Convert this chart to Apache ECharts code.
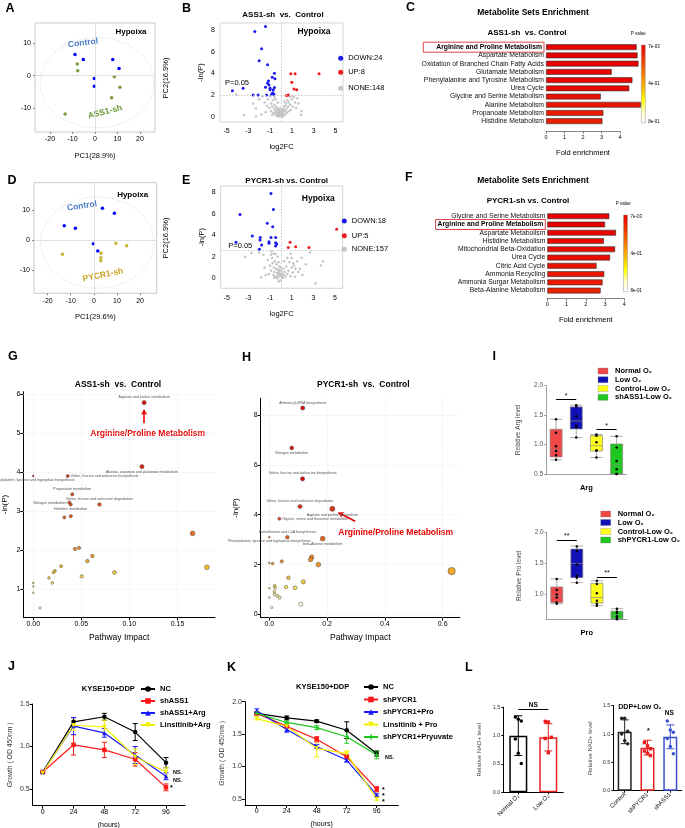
<!DOCTYPE html>
<html>
<head>
<meta charset="utf-8">
<script src="https://cdn.jsdelivr.net/npm/echarts@6.0.0/dist/echarts.min.js"></script>
<style>html,body{margin:0;padding:0;background:#fff;}#chart{width:685px;height:828px;}</style>
</head>
<body>
<div id="chart"></div>
<script>
const FONT = "'Liberation Sans', Arial, Helvetica, sans-serif";

// ---------- A / D : PCA score plots ----------
const pcaA_control = [[-8.9,6.5],[-5.2,5.0],[7.9,5.0],[10.7,2.2],[-0.3,-0.9],[-0.3,-3.3]];
const pcaA_ass1 = [[-7.9,3.6],[-7.7,1.5],[8.6,-0.4],[11.1,-3.6],[7.4,-6.9],[-13.3,-11.9]];
const pcaD_control = [[-12.8,4.7],[-8.0,3.9],[3.7,10.6],[8.9,8.9],[-0.2,-1.3],[1.7,-3.7]];
const pcaD_pycr1 = [[-13.6,-4.8],[3.1,-4.4],[3.0,-5.9],[3.0,-6.9],[9.5,-1.1],[14.2,-1.9]];
const pcaTicksX = [-20,-10,0,10,20];
const pcaTicksY = [-10,0,10];
const pcaEllipseA = [0.9,-2.2,25.3,14.0];
const pcaEllipseD = [1.5,-0.9,24.5,15.2];

// ---------- B / E : volcano plots ----------
const volB_down = [[-1.42,8.33],[-2.4,7.87],[-1.78,6.27],[-2.0,5.15],[-1.23,4.78],[-0.6,4.0],[-0.8,3.64],[-0.55,3.49],[-1.23,3.09],[-1.1,2.93],[-1.42,2.72],[-1.0,2.62],[-1.0,2.47],[-0.7,2.47],[-0.6,2.69],[-1.32,2.0],[-0.86,2.07],[-0.65,2.07],[-2.1,2.0],[-2.55,2.0],[-3.48,2.62],[-4.46,2.38],[-1.15,3.3],[-0.75,2.2]];
const volB_up = [[0.9,3.95],[1.3,3.95],[3.5,3.95],[1.0,3.18],[1.2,2.56],[1.45,2.47],[0.52,1.94],[0.68,2.0]];
const volB_none = [[-4.1,2.05],[-3.4,0.15],[-2.3,0.0],[-2.3,0.75],[-2.55,1.2],[-2.0,1.6],[-1.7,1.85],[-1.5,1.3],[-1.3,1.0],[-1.2,1.6],[-1.1,0.8],[-1.0,1.85],[-0.9,1.2],[-0.9,0.5],[-0.8,0.9],[-0.75,1.5],[-0.7,0.3],[-0.6,0.7],[-0.6,1.1],[-0.55,0.45],[-0.5,0.2],[-0.45,0.9],[-0.4,0.6],[-0.4,0.1],[-0.35,0.35],[-0.3,0.8],[-0.3,0.05],[-0.25,0.5],[-0.2,0.25],[-0.2,0.0],[-0.15,0.6],[-0.1,0.15],[-0.1,0.4],[-0.05,0.05],[0.0,0.3],[0.05,0.1],[0.1,0.5],[0.1,0.2],[0.15,0.0],[0.2,0.7],[0.2,0.35],[0.25,0.1],[0.3,0.9],[0.35,0.5],[0.4,0.2],[0.45,1.2],[0.5,0.7],[0.55,0.35],[0.6,1.5],[0.65,0.9],[0.7,0.5],[0.8,1.85],[0.85,1.1],[0.9,0.6],[1.0,1.6],[1.1,0.9],[1.2,1.8],[1.3,1.3],[1.4,0.8],[1.5,1.7],[1.6,1.2],[1.85,0.15],[1.9,0.5],[-1.4,0.4],[-1.8,0.2],[0.3,1.4],[-0.6,1.8],[1.05,1.9],[-0.3,1.3],[-0.05,0.75],[0.05,0.55],[-0.15,0.3],[-0.25,0.15],[0.12,0.05],[-0.35,0.6],[0.25,0.6],[-0.8,0.15],[0.4,1.0],[-0.5,1.6],[0.7,1.3]];
const volE_down = [[-0.91,7.9],[-0.69,6.42],[-3.77,5.95],[-1.25,5.12],[-0.75,4.8],[-2.63,3.94],[-0.91,3.81],[-0.48,3.81],[-1.92,3.57],[-1.09,3.41],[-1.09,3.26],[-0.48,3.32],[-0.38,3.19],[-1.77,3.1],[-1.98,2.7],[-4.14,3.35],[-0.48,3.0],[-1.9,3.8]];
const volE_up = [[0.85,3.35],[0.69,2.88],[1.37,2.95],[2.6,2.88],[5.15,4.56]];
const volE_none = [[-3.3,2.0],[-2.7,2.35],[-1.6,2.2],[-0.85,2.5],[-0.5,2.3],[1.0,1.9],[1.15,1.4],[1.9,1.9],[1.75,0.9],[2.7,2.4],[3.9,1.6],[3.7,1.2],[3.2,-0.45],[1.3,0.15],[-1.2,1.7],[-1.0,1.2],[-0.9,0.7],[-0.8,1.9],[-0.75,1.4],[-0.7,0.3],[-0.65,1.0],[-0.6,0.6],[-0.55,1.6],[-0.5,0.2],[-0.45,0.9],[-0.4,1.3],[-0.4,0.1],[-0.35,0.5],[-0.3,0.8],[-0.3,2.0],[-0.25,0.3],[-0.2,-0.3],[-0.2,0.6],[-0.15,1.1],[-0.1,0.2],[-0.1,0.45],[-0.05,-0.2],[0.0,0.3],[0.05,0.7],[0.1,0.15],[0.15,0.4],[0.2,0.05],[0.25,0.9],[0.3,0.3],[0.35,0.6],[0.45,0.15],[0.5,1.1],[0.6,0.4],[0.7,0.7],[0.8,1.5],[0.9,0.2],[1.0,1.0],[1.1,0.55],[1.2,1.2],[1.35,0.9],[1.5,1.6],[1.6,0.6],[2.0,0.3],[-1.4,0.3],[-1.5,1.0],[-1.8,0.1],[-2.0,2.4],[-0.65,2.3],[-0.2,1.5],[0.0,1.0],[-0.6,0.05],[-0.3,0.0],[0.05,0.4],[-0.15,0.8],[0.9,2.3],[-0.9,2.2],[-1.1,0.4],[0.6,1.9],[2.3,1.3],[0.3,1.6]];
const volTicksX = [-5,-3,-1,1,3,5];
const volTicksY = [0,2,4,6,8];
const volCutB = 1.95;
const volCutE = 2.64;

// ---------- C / F : metabolite set enrichment ----------
const cNames = ['Arginine and Proline Metabolism','Aspartate Metabolism','Oxidation of Branched Chain Fatty Acids','Glutamate Metabolism','Phenylalanine and Tyrosine Metabolism','Urea Cycle','Glycine and Serine Metabolism','Alanine Metabolism','Propanoate Metabolism','Histidine Metabolism'];
const cFold = [4.9,4.95,5.0,3.55,4.67,4.5,2.96,5.13,3.1,3.05];
const cP = [0.007,0.009,0.01,0.02,0.025,0.03,0.05,0.06,0.08,0.09];
const fNames = ['Glycine and Serine Metabolism','Arginine and Proline Metabolism','Aspartate Metabolism','Histidine Metabolism','Mitochondrial Beta-Oxidation','Urea Cycle','Citric Acid Cycle','Ammonia Recycling','Ammonia Surgar Metabolism','Beta-Alanine Metabolism'];
const fFold = [3.22,3.0,3.57,2.94,3.52,3.26,2.56,2.96,2.87,2.77];
const fP = [0.007,0.01,0.015,0.03,0.035,0.04,0.06,0.07,0.08,0.1];
const pLegendLabels = ['7e-03','4e-01','8e-01'];

// ---------- G / H : pathway impact ----------
const gPts = [[0.1153,5.78],[0.113,4.14],[0.0,3.90],[0.0358,3.90],[0.0406,3.43],[0.0375,3.22],[0.0389,3.17],[0.0688,3.17],[0.0323,2.84],[0.039,2.87],[0.1656,2.43],[0.0434,2.03],[0.0476,2.06],[0.0615,1.85],[0.0563,1.72],[0.1806,1.56],[0.0844,1.43],[0.0289,1.59],[0.0226,1.47],[0.021,1.43],[0.0504,1.33],[0.0163,1.29],[0.0198,1.16],[0.0,1.16],[0.0,1.07],[0.0,0.91],[0.007,0.52]];
const gNames = ['Arginine and proline metabolism','Alanine, aspartate and glutamate metabolism','Phenylalanine, tyrosine and tryptophan biosynthesis','Valine, leucine and isoleucine biosynthesis','Propanoate metabolism','Nitrogen metabolism','Histidine metabolism','Valine, leucine and isoleucine degradation'];
const hPts = [[0.1155,8.28],[0.0775,6.68],[0.115,5.44],[0.106,4.33],[0.218,4.24],[0.0346,3.84],[0.0,3.1],[0.0623,3.1],[0.1846,3.04],[0.043,2.13],[0.0115,2.04],[0.0,2.07],[0.1466,2.3],[0.1427,2.2],[0.1697,2.0],[0.066,1.47],[0.1177,1.31],[0.058,1.1],[0.089,1.07],[0.0185,1.15],[0.0196,1.07],[0.0,1.05],[0.017,0.91],[0.018,0.8],[0.0277,0.75],[0.0355,0.67],[0.0,0.68],[0.1085,0.41],[0.008,0.28],[0.631,1.74]];
const hNames = ['Aminoacyl-tRNA biosynthesis','Nitrogen metabolism','Valine, leucine and isoleucine biosynthesis','Valine, leucine and isoleucine degradation','Arginine and proline metabolism','Glycine, serine and threonine metabolism','Phenylalanine, tyrosine and tryptophan biosynthesis','Pantothenate and CoA biosynthesis','beta-Alanine metabolism'];
const gTicksX = [0,0.05,0.1,0.15];
const gTicksY = [1,2,3,4,5,6];
const hTicksX = [0,0.2,0.4,0.6];
const hTicksY = [0,2,4,6,8];
const gArrow = [[0.1153,5.25],[0.1153,5.6]];
const hArrow = [[0.297,3.74],[0.239,4.08]];

// ---------- I : box plots ----------
const iArgGroups = ['Normal O₂','Low O₂','Control-Low O₂','shASS1-Low O₂'];
const iProGroups = ['Normal O₂','Low O₂','Control-Low O₂','shPYCR1-Low O₂'];
const argBox = [[0.74,0.79,0.91,1.26,1.43],[1.12,1.265,1.40,1.64,1.67],[0.78,0.89,0.98,1.15,1.17],[0.5,0.5,0.65,1.01,1.14]];
const argPts = [[1.43,1.2,0.97,0.89,0.82,0.74],[1.67,1.65,1.48,1.32,1.30,1.12],[1.17,1.15,1.04,0.90,0.90,0.78],[1.14,0.95,0.72,0.58,0.50,0.50]];
const argSig = [[0,1,1.77,'*'],[2,3,1.26,'*']];
const proBox = [[0.85,0.87,0.97,1.12,1.25],[1.19,1.27,1.5,1.73,1.78],[0.82,0.86,0.95,1.18,1.22],[0.6,0.61,0.67,0.73,0.77]];
const proPts = [[1.25,1.07,1.0,0.95,0.87,0.85],[1.77,1.70,1.48,1.30,1.27,1.19],[1.22,1.17,1.02,0.90,0.85,0.82],[0.77,0.72,0.70,0.65,0.62,0.60]];
const proSig = [[0,1,1.88,'**'],[2,3,1.28,'**']];

// ---------- J / K : growth curves ----------
const hours = [0,24,48,72,96];
const jNC = [0.70,1.29,1.35,1.17,0.81],        jNCerr = [0.01,0.05,0.04,0.10,0.06];
const jShASS1 = [0.70,1.02,0.96,0.85,0.52],    jShASS1err = [0.01,0.12,0.09,0.08,0.04];
const jShASS1Arg = [0.70,1.24,1.16,0.90,0.65], jShASS1Argerr = [0.01,0.10,0.05,0.10,0.04];
const jLinsArg = [0.69,1.25,1.23,0.88,0.70],   jLinsArgerr = [0.01,0.06,0.08,0.09,0.05];
const kNC = [1.82,1.75,1.70,1.56,1.20],        kNCerr = [0.02,0.03,0.02,0.13,0.04];
const kShPYCR1 = [1.82,1.62,1.42,1.15,0.65],   kShPYCR1err = [0.02,0.02,0.04,0.03,0.04];
const kShPYCR1Pro = [1.86,1.57,1.31,1.10,0.56],kShPYCR1Proerr = [0.03,0.04,0.03,0.03,0.02];
const kLinsPro = [1.74,1.62,1.28,1.20,0.50],   kLinsProerr = [0.02,0.02,0.13,0.04,0.02];
const kShPYCR1Pyr = [1.82,1.68,1.60,1.46,1.18],kShPYCR1Pyrerr = [0.02,0.02,0.03,0.10,0.06];

// ---------- L : NAD+ bars ----------
const lGroups1 = ['Normal O₂','Low O₂'];
const lMean1 = [1.0,0.97], lErr1 = [0.35,0.24];
const lPts1 = [[1.33,1.29,1.26,0.94,0.69,0.51],[1.25,1.24,0.97,0.95,0.70]];
const lSig1 = [0,1,1.46,'NS'];
const lGroups2 = ['Control','shPYCR1','shASS1'];
const lMean2 = [1.04,0.76,0.95], lErr2 = [0.21,0.13,0.21];
const lPts2 = [[1.28,1.28,1.05,1.00,0.88,0.83],[0.85,0.79,0.74,0.70,0.66,0.62],[1.23,1.07,1.03,0.92,0.78,0.65]];

// ================= build =================
function merge(a,b){
  const o = Object.assign({}, a);
  for (const k in b){
    const bv = b[k], av = a[k];
    if (bv && typeof bv === 'object' && !Array.isArray(bv) && typeof bv !== 'function' && av && typeof av === 'object' && !Array.isArray(av)) o[k] = merge(av,bv);
    else o[k] = bv;
  }
  return o;
}
const baseAxis = {
  splitLine:{show:false},
  axisLine:{show:true, onZero:false, lineStyle:{color:'#000', width:1}},
  axisTick:{show:true, length:3, lineStyle:{color:'#000', width:1}},
  axisLabel:{fontSize:7, color:'#000', fontFamily:FONT, margin:3},
  nameTextStyle:{fontSize:7.5, color:'#000', fontFamily:FONT},
  nameLocation:'middle'
};
function vAxis(gi,min,max,o){ return merge(merge(baseAxis,{gridIndex:gi,type:'value',min:min,max:max}), o||{}); }
function cAxis(gi,data,o){ return merge(merge(baseAxis,{gridIndex:gi,type:'category',data:data}), o||{}); }

const grids = [
  {left:35, top:23, width:120, height:109, show:true, borderColor:'#bbb', borderWidth:0.8},
  {left:220, top:23, width:123, height:99, show:true, borderColor:'#ccc', borderWidth:0.8},
  {left:546, top:43.1, width:74, height:82.2},
  {left:34, top:182.7, width:122.7, height:110.6, show:true, borderColor:'#bbb', borderWidth:0.8},
  {left:220.7, top:186, width:122, height:102.3, show:true, borderColor:'#ccc', borderWidth:0.8},
  {left:547.3, top:212.1, width:77, height:82.6},
  {left:23.3, top:391.7, width:191.7, height:225.6},
  {left:260.7, top:398.3, width:199.3, height:219.4},
  {left:546, top:385.7, width:80.7, height:88.3},
  {left:546.7, top:532.3, width:80.3, height:87},
  {left:32.7, top:704, width:152.3, height:101.7},
  {left:245, top:701.7, width:153.3, height:103.3},
  {left:503.3, top:707.3, width:60, height:85},
  {left:613.3, top:705.7, width:68.4, height:85}
].map(g => Object.assign({containLabel:false, outerBoundsMode:'none'}, g));

const xAxes = [], yAxes = [], series = [], visualMaps = [];

// --- A, D axes
function pcaAxes(gi, xr, yr, name){
  xAxes[gi] = vAxis(gi, xr[0], xr[1], {axisLine:{show:false}, axisTick:{customValues:pcaTicksX, length:2, lineStyle:{color:'#888'}}, axisLabel:{customValues:pcaTicksX, margin:4}, name:name, nameGap:20});
  yAxes[gi] = vAxis(gi, yr[0], yr[1], {axisLine:{show:false}, axisTick:{customValues:pcaTicksY, length:2, lineStyle:{color:'#888'}}, axisLabel:{customValues:pcaTicksY, margin:4}});
}
pcaAxes(0, [-26.7,26.7], [-17.5,16.3], 'PC1(28.9%)');
pcaAxes(3, [-25.9,27.2], [-17.8,19.1], 'PC1(29.6%)');
const zeroLines = {silent:true, symbol:'none', label:{show:false}, lineStyle:{color:'#d8d8d8', type:'solid', width:0.8}, data:[{xAxis:0},{yAxis:0}], animation:false};
function scat(gi, pts, color, size, extra){ return Object.assign({type:'scatter', xAxisIndex:gi, yAxisIndex:gi, data:pts, symbolSize:size, itemStyle:{color:color, opacity:1}, z:3, silent:true}, extra||{}); }
series.push(scat(0, pcaA_control, '#0000ff', 3.5, {markLine:zeroLines}));
series.push(scat(0, pcaA_ass1, '#7a9e3c', 3.5));
series.push(scat(3, pcaD_control, '#0000ff', 3.5, {markLine:zeroLines}));
series.push(scat(3, pcaD_pycr1, '#c9b43a', 3.5));

// --- B, E volcano
function volAxes(gi, xr, yr, gapX){
  xAxes[gi] = vAxis(gi, xr[0], xr[1], {axisLine:{show:false}, axisTick:{show:false}, axisLabel:{customValues:volTicksX, margin:6}, name:'log2FC', nameGap:gapX});
  yAxes[gi] = vAxis(gi, yr[0], yr[1], {axisLine:{show:false}, axisTick:{show:false}, axisLabel:{customValues:volTicksY, margin:5}, name:'-ln(P)', nameGap:15});
}
volAxes(1, [-5.6,5.7], [-0.5,8.65], 21);
volAxes(4, [-5.55,5.71], [-0.93,8.6], 22);
function cutLines(y){ return {silent:true, symbol:'none', label:{show:false}, lineStyle:{color:'#bbb', type:[1.5,1.5], width:0.8}, data:[{xAxis:0},{yAxis:y}], animation:false}; }
series.push(scat(1, volB_none, '#c4c4c4', 2.5, {markLine:cutLines(volCutB)}));
series.push(scat(1, volB_down, '#1a1aee', 3));
series.push(scat(1, volB_up, '#ee1a1a', 3));
series.push(scat(4, volE_none, '#c4c4c4', 2.5, {markLine:cutLines(volCutE)}));
series.push(scat(4, volE_down, '#1a1aee', 3));
series.push(scat(4, volE_up, '#ee1a1a', 3));

// --- C, F enrichment bars
function enrichAxes(gi, names, offset, gap, hl, pad){
  xAxes[gi] = vAxis(gi, 0, 4, {interval:1, offset:offset, axisLine:{lineStyle:{color:'#666', width:0.8}}, axisTick:{length:2.5, lineStyle:{color:'#666', width:0.8}}, axisLabel:{fontSize:5.5, margin:3}, name:'Fold enrichment', nameGap:gap});
  yAxes[gi] = cAxis(gi, names, {inverse:true, axisLine:{show:false}, axisTick:{show:false},
    axisLabel:{interval:0, fontSize:6.8, margin:2, color:'#111',
      formatter:(v,i)=> i===hl ? '{hl|'+v+'}' : v,
      rich:{hl:{fontWeight:'bold', fontSize:6.8, color:'#000', borderColor:'#e04848', borderWidth:1, padding:pad}}}});
}
enrichAxes(2, cNames, 6, 18, 0, [1.5,2,1.5,13]);
enrichAxes(5, fNames, 4, 17, 1, [1.5,2,1.5,2]);
const cIdx = series.length;
series.push({type:'bar', xAxisIndex:2, yAxisIndex:2, data:cNames.map((n,i)=>[cFold[i], n, cP[i]]), encode:{x:0,y:1}, barWidth:5.8, clip:false, itemStyle:{borderColor:'#333', borderWidth:0.6}, silent:true});
const fIdx = series.length;
series.push({type:'bar', xAxisIndex:5, yAxisIndex:5, data:fNames.map((n,i)=>[fFold[i], n, fP[i]]), encode:{x:0,y:1}, barWidth:5.8, clip:false, itemStyle:{borderColor:'#333', borderWidth:0.6}, silent:true});
const pColors = ['#e60000','#ea2a00','#f05a00','#f59000','#f8c000','#ffff00','#ffffc0','#ffffff'];
visualMaps.push({type:'continuous', show:false, seriesIndex:[cIdx,fIdx], dimension:2, min:0.007, max:0.8, inRange:{color:pColors}});

// --- G, H pathway impact
const gLabelPos = ['top','bottom','bottom','right','top','left','bottom','top'];
const hLabelPos = ['top','bottom','top','top','bottom','right','bottom','top','bottom'];
xAxes[6] = vAxis(6, -0.0104, 0.189, {axisTick:{customValues:gTicksX}, axisLabel:{customValues:gTicksX, formatter:v=>v.toFixed(2)}, name:'Pathway Impact', nameGap:16, nameTextStyle:{fontSize:8.5}});
yAxes[6] = vAxis(6, 0.28, 6.06, {axisTick:{customValues:gTicksY}, axisLabel:{customValues:gTicksY}, name:'-ln(P)', nameGap:15, nameTextStyle:{fontSize:8}});
xAxes[7] = vAxis(7, -0.03, 0.66, {axisTick:{customValues:hTicksX}, axisLabel:{customValues:hTicksX, formatter:v=>v.toFixed(1)}, name:'Pathway Impact', nameGap:15.5, nameTextStyle:{fontSize:8.5}});
yAxes[7] = vAxis(7, -0.13, 8.67, {axisTick:{customValues:hTicksY}, axisLabel:{customValues:hTicksY}, name:'-ln(P)', nameGap:21, nameTextStyle:{fontSize:8}});
function impactSeries(gi, pts, names, pos, ticksX, ticksY, arrow){
  const grid = {color:'#e4e4e4', type:[1,1.5], width:0.8};
  const lines = ticksX.map(v=>({xAxis:v, lineStyle:grid})).concat(ticksY.map(v=>({yAxis:v, lineStyle:grid})));
  lines.push([{coord:arrow[0], symbol:'none', lineStyle:{color:'#e80000', width:1.6, type:'solid'}},{coord:arrow[1], symbol:'arrow'}]);
  return {type:'scatter', xAxisIndex:gi, yAxisIndex:gi, silent:true, z:3,
    data: pts.map((p,i)=>({value:p, label: names[i] ? {show:true, formatter:names[i], position:pos[i]} : {show:false}})),
    symbolSize: v => 1.8 + 7*Math.sqrt(Math.max(v[0],0)),
    itemStyle:{borderColor:'#444', borderWidth:0.5, opacity:1},
    label:{fontSize:3.6, color:'#555', distance:1, fontFamily:FONT},
    markLine:{silent:true, symbol:'none', symbolSize:5, label:{show:false}, z:1, animation:false, data:lines}};
}
const gIdx = series.length;
series.push(impactSeries(6, gPts, gNames, gLabelPos, gTicksX, gTicksY, gArrow));
const hIdx = series.length;
series.push(impactSeries(7, hPts, hNames, hLabelPos, hTicksX, hTicksY, hArrow));
visualMaps.push({type:'continuous', show:false, seriesIndex:gIdx, dimension:1, min:0.5, max:4.5, inRange:{color:['#ffffff','#f8f080','#f5c828','#f08a1e','#ec6e1a','#e8561a','#e43c18','#e02a14','#dd1010']}});
visualMaps.push({type:'continuous', show:false, seriesIndex:hIdx, dimension:1, min:0.3, max:5.3, inRange:{color:['#ffffff','#faf290','#f5d038','#f2a428','#ee8020','#ea6a1a','#e65418','#e24018','#de3018','#dc1c14','#dc0808']}});

// --- I box plots
const iColors = ['#f04848','#1010b4','#ffff1a','#1ec81e'];
function boxPanel(gi, groups, boxes, pts, sig, ymin, ticks, nameY, nameX){
  xAxes[gi] = cAxis(gi, groups, {axisTick:{show:false}, axisLabel:{show:false}, axisLine:{lineStyle:{color:'#888', width:0.8}}, name:nameX, nameGap:10, nameTextStyle:{fontWeight:'bold', fontSize:7.5}});
  yAxes[gi] = vAxis(gi, ymin, 2.0, {axisLine:{lineStyle:{color:'#888', width:0.8}}, axisTick:{customValues:ticks, length:2, lineStyle:{color:'#888', width:0.8}}, axisLabel:{customValues:ticks, fontSize:6.5, color:'#555', formatter:v=>v.toFixed(1)}, name:nameY, nameGap:24, nameTextStyle:{fontSize:6.5, color:'#444'}});
  series.push({type:'boxplot', xAxisIndex:gi, yAxisIndex:gi, boxWidth:[12,12], silent:true,
    data: boxes.map((b,i)=>({value:b, itemStyle:{color:iColors[i], borderColor:'#888', borderWidth:0.7}}))});
  series.push({type:'scatter', xAxisIndex:gi, yAxisIndex:gi, symbolSize:2.5, itemStyle:{color:'#000', opacity:1}, z:4, silent:true,
    data: pts.flatMap((arr,i)=>arr.map(v=>[i,v])),
    markLine:{silent:true, symbol:'none', animation:false, lineStyle:{color:'#000', width:1, type:'solid'},
      label:{show:true, position:'insideMiddleTop', formatter:'{b}', fontSize:7, color:'#000', distance:0, fontFamily:FONT},
      data: sig.map(s=>[{coord:[groups[s[0]], s[2]], name:s[3]},{coord:[groups[s[1]], s[2]]}])}});
}
boxPanel(8, iArgGroups, argBox, argPts, argSig, 0.5, [0.5,1.0,1.5,2.0], 'Relative Arg level', 'Arg');
boxPanel(9, iProGroups, proBox, proPts, proSig, 0.6, [1.0,1.5,2.0], 'Relative Pro level', 'Pro');

// --- J, K growth curves
function errBars(colorOf, cap){
  return function(params, api){
    const x = api.value(0), m = api.value(1), e = api.value(2);
    const p1 = api.coord([x, m+e]), p2 = api.coord([x, m-e]);
    const c = typeof colorOf === 'function' ? colorOf(params.dataIndex) : colorOf;
    const st = {stroke:c, lineWidth:1, fill:null};
    return {type:'group', children:[
      {type:'line', shape:{x1:p1[0],y1:p1[1],x2:p2[0],y2:p2[1]}, style:st},
      {type:'line', shape:{x1:p1[0]-cap,y1:p1[1],x2:p1[0]+cap,y2:p1[1]}, style:st},
      {type:'line', shape:{x1:p2[0]-cap,y1:p2[1],x2:p2[0]+cap,y2:p2[1]}, style:st}]};
  };
}
function growthAxes(gi, xr, yr, yticks){
  xAxes[gi] = vAxis(gi, xr[0], xr[1], {axisTick:{customValues:hours, length:3}, axisLabel:{customValues:hours, fontSize:7}, name:'(hours)', nameGap:16, nameTextStyle:{fontSize:7}});
  yAxes[gi] = vAxis(gi, yr[0], yr[1], {axisTick:{customValues:yticks, length:3}, axisLabel:{customValues:yticks, fontSize:7, color:'#333', formatter:v=>v.toFixed(1)}, name:'Growth ( OD 450nm )', nameGap:19, nameTextStyle:{fontSize:6.8, color:'#333'}});
}
growthAxes(10, [-7.8,110.8], [0.304,1.5], [0.5,1.0,1.5]);
growthAxes(11, [-9.4,113.3], [0.407,2.0], [0.5,1.0,1.5,2.0]);
const plusPath = 'path://M3,0H5V3H8V5H5V8H3V5H0V3H3Z';
function growth(gi, name, vals, errs, color, symbol, rot){
  series.push({type:'line', name:name, xAxisIndex:gi, yAxisIndex:gi, data:hours.map((h,i)=>[h, vals[i]]), symbol:symbol, symbolRotate:rot||0, symbolSize:4.5, showSymbol:true, lineStyle:{color:color, width:1.2}, itemStyle:{color:color, opacity:1}, z:3, silent:true});
  series.push({type:'custom', xAxisIndex:gi, yAxisIndex:gi, renderItem:errBars(color, 2.5), data:hours.map((h,i)=>[h, vals[i], errs[i]]), z:2, silent:true, clip:false});
}
growth(10, 'NC', jNC, jNCerr, '#000000', 'circle');
growth(10, 'shASS1', jShASS1, jShASS1err, '#ff1a1a', 'rect');
growth(10, 'shASS1+Arg', jShASS1Arg, jShASS1Argerr, '#1a1aff', 'triangle');
growth(10, 'Linsitinib+Arg', jLinsArg, jLinsArgerr, '#f2f200', 'triangle', 180);
growth(11, 'NC', kNC, kNCerr, '#000000', 'circle');
growth(11, 'shPYCR1', kShPYCR1, kShPYCR1err, '#ff1a1a', 'rect');
growth(11, 'shPYCR1+Pro', kShPYCR1Pro, kShPYCR1Proerr, '#1a1aff', 'triangle');
growth(11, 'Linsitinib + Pro', kLinsPro, kLinsProerr, '#f2f200', 'triangle', 180);
growth(11, 'shPYCR1+Pryuvate', kShPYCR1Pyr, kShPYCR1Pyrerr, '#1ec81e', plusPath);

// --- L bars
function nadPanel(gi, groups, means, errs, pts, colors, gapY, sig){
  xAxes[gi] = cAxis(gi, groups, {axisTick:{alignWithLabel:true, length:2}, axisLabel:{rotate:45, fontSize:6, margin:3, interval:0}});
  yAxes[gi] = vAxis(gi, 0, 1.5, {interval:0.5, axisTick:{length:2}, axisLabel:{fontSize:5.5, color:'#333', formatter:v=>v.toFixed(1)}, name:'Relative NAD+ level', nameGap:gapY, nameTextStyle:{fontSize:6, color:'#444'}});
  const barW = gi===12 ? 18 : 14;
  const bar = {type:'bar', xAxisIndex:gi, yAxisIndex:gi, barWidth:barW, silent:true,
    data: means.map((v,i)=>({value:v, itemStyle:{color:'rgba(255,255,255,0)', borderColor:colors[i], borderWidth:1.5}}))};
  if (sig) bar.markLine = {silent:true, symbol:'none', animation:false, lineStyle:{color:'#000', width:1, type:'solid'},
      label:{show:true, position:'insideMiddleTop', formatter:'{b}', fontSize:6.5, fontWeight:'bold', color:'#000', distance:1, fontFamily:FONT},
      data:[[{coord:[groups[sig[0]], sig[2]], name:sig[3]},{coord:[groups[sig[1]], sig[2]]}]]};
  series.push(bar);
  series.push({type:'custom', xAxisIndex:gi, yAxisIndex:gi, renderItem:errBars(i=>colors[i], 4), data:means.map((v,i)=>[i, v, errs[i]]), z:3, silent:true, clip:false});
  series.push({type:'scatter', xAxisIndex:gi, yAxisIndex:gi, symbolSize:3.5, z:4, silent:true,
    data: pts.flatMap((arr,i)=>arr.map((v,k)=>({value:[i,v], symbol: i===1 ? 'rect' : 'circle', symbolOffset:[((k%3)-1)*3,0], itemStyle:{color:colors[i], opacity:1}})))});
}
nadPanel(12, lGroups1, lMean1, lErr1, lPts1, ['#000000','#e82020'], 21, lSig1);
nadPanel(13, lGroups2, lMean2, lErr2, lPts2, ['#222222','#e82020','#3a4ed0'], 20, null);

// --- legends
const legendText = {fontSize:7.5, fontWeight:'bold', color:'#000', fontFamily:FONT};
const legends = [
  {left:140, top:685, orient:'vertical', itemGap:4, itemWidth:14, itemHeight:7, padding:0, selectedMode:false, textStyle:legendText, data:['NC','shASS1','shASS1+Arg','Linsitinib+Arg']},
  {left:363, top:683, orient:'vertical', itemGap:4.5, itemWidth:14, itemHeight:7, padding:0, selectedMode:false, textStyle:legendText, data:['NC','shPYCR1','shPYCR1+Pro','Linsitinib + Pro','shPYCR1+Pryuvate']}
];

const option = {animation:false, backgroundColor:'#ffffff', textStyle:{fontFamily:FONT},
  grid:grids, xAxis:xAxes, yAxis:yAxes, series:series, visualMap:visualMaps, legend:legends};

const chart = echarts.init(document.getElementById('chart'), null, {renderer:'canvas', width:685, height:828});
chart.setOption(option);

// ================= annotations (text in pixels) =================
function txt(x, y, text, o){ return {type:'text', x:x, y:y, silent:true, style:Object.assign({text:text, fontFamily:FONT, fontSize:7, fill:'#000', align:'center', verticalAlign:'middle'}, o||{})}; }
const G = [];
[['A',5.5,2],['B',182,2],['C',406,1],['D',7.5,174],['E',182,174],['F',405,171],['G',8,350],['H',242,351],['I',492.5,350],['J',8,660],['K',227,661],['L',465,661]]
  .forEach(l => G.push(txt(l[1], l[2], l[0], {fontSize:12.5, fontWeight:'bold', align:'left', verticalAlign:'top'})));
// A
G.push(Object.assign(txt(83,43,'Control',{fontSize:8.5, fontWeight:'bold', fill:'#4a7cc8'}),{rotation:0.12}));
G.push(Object.assign(txt(105,112,'ASS1-sh',{fontSize:8.5, fontWeight:'bold', fill:'#6a9a3a'}),{rotation:0.25}));
G.push(txt(131,32,'Hypoixa',{fontSize:8, fontWeight:'bold'}));
G.push(Object.assign(txt(166,78,'PC2(16.9%)',{fontSize:7.5}),{rotation:Math.PI/2}));
// D
G.push(Object.assign(txt(82,206,'Control',{fontSize:8.5, fontWeight:'bold', fill:'#4a7cc8'}),{rotation:0.15}));
G.push(Object.assign(txt(103,275,'PYCR1-sh',{fontSize:8.5, fontWeight:'bold', fill:'#c8a020'}),{rotation:0.2}));
G.push(txt(132.7,195,'Hypoixa',{fontSize:8, fontWeight:'bold'}));
G.push(Object.assign(txt(166,238,'PC2(16.9%)',{fontSize:7.5}),{rotation:Math.PI/2}));
// B / E
G.push(txt(283,15,'ASS1-sh  vs.  Control',{fontSize:8, fontWeight:'bold'}));
G.push(txt(314,31.7,'Hypoixa',{fontSize:8.5, fontWeight:'bold'}));
G.push(txt(225,83,'P=0.05',{fontSize:7.5, align:'left'}));
G.push(txt(286.7,180.7,'PYCR1-sh vs. Control',{fontSize:8, fontWeight:'bold'}));
G.push(txt(318.3,198.3,'Hypoixa',{fontSize:8.5, fontWeight:'bold'}));
G.push(txt(228.3,246,'P=0.05',{fontSize:7.5, align:'left'}));
function volLegend(x, ys, labels){
  const cols = ['#1a1aee','#ee1a1a','#c4c4c4'];
  ys.forEach((y,i)=>{
    G.push({type:'circle', silent:true, shape:{cx:x, cy:y, r:2.5}, style:{fill:cols[i]}});
    G.push(txt(x+7.5, y, labels[i], {fontSize:7.5, align:'left'}));
  });
}
volLegend(340.7, [58.3,72.3,88.3], ['DOWN:24','UP:8','NONE:148']);
volLegend(344.3, [221,235.7,249.3], ['DOWN:18','UP:5','NONE:157']);
// C / F
function pBar(x, y0, y1, px, py){
  G.push({type:'rect', silent:true, shape:{x:x, y:y0, width:4, height:y1-y0},
    style:{fill:{type:'linear', x:0, y:0, x2:0, y2:1, colorStops:pColors.map((c,i)=>({offset:i/(pColors.length-1), color:c}))}, stroke:'#999', lineWidth:0.5}});
  G.push(txt(px, py, 'P value', {fontSize:4.5}));
  [y0+1.5, (y0+y1)/2, y1-0.5].forEach((y,i)=>G.push(txt(x+7, y, pLegendLabels[i], {fontSize:4.5, align:'left'})));
}
G.push(txt(533,13,'Metabolite Sets Enrichment',{fontSize:8.5, fontWeight:'bold'}));
G.push(txt(527,33,'ASS1-sh  vs. Control',{fontSize:8, fontWeight:'bold'}));
pBar(641.3, 45, 122.7, 638.3, 33.3);
G.push(txt(533,181,'Metabolite Sets Enrichment',{fontSize:8.5, fontWeight:'bold'}));
G.push(txt(528,201,'PYCR1-sh vs. Control',{fontSize:8, fontWeight:'bold'}));
pBar(623.5, 215, 291.7, 623.3, 203.3);
// G / H
G.push(txt(118,385,'ASS1-sh  vs.  Control',{fontSize:8.5, fontWeight:'bold'}));
G.push(txt(147.7,433.3,'Arginine/Proline Metabolism',{fontSize:8.5, fontWeight:'bold', fill:'#e80000'}));
G.push(txt(363.3,385,'PYCR1-sh  vs.  Control',{fontSize:8.5, fontWeight:'bold'}));
G.push(txt(338.3,532.3,'Arginine/Proline Metabolism',{fontSize:8.5, fontWeight:'bold', fill:'#e80000', align:'left'}));
// I legends
function boxLegend(x, ys, labels){
  ys.forEach((y,i)=>{
    G.push({type:'rect', silent:true, shape:{x:x, y:y-3, width:10, height:6}, style:{fill:iColors[i], stroke:'#777', lineWidth:0.3}});
    G.push(txt(x+17, y, labels[i], {fontSize:7.5, fontWeight:'bold', align:'left'}));
  });
}
boxLegend(598, [371,379.7,388.5,397.3], iArgGroups);
boxLegend(600.7, [514,522.5,531.5,540], iProGroups);
// J / K
G.push(txt(108.3,689,'KYSE150+DDP',{fontSize:7.5, fontWeight:'bold'}));
G.push(txt(173,772,'NS.',{fontSize:5.5, fontWeight:'bold', align:'left'}));
G.push(txt(173,780,'NS.',{fontSize:5.5, fontWeight:'bold', align:'left'}));
G.push(txt(170,788,'*',{fontSize:7, fontWeight:'bold', align:'left'}));
G.push(txt(322.7,686.7,'KYSE150+DDP',{fontSize:7.5, fontWeight:'bold'}));
G.push(txt(385,757,'NS.',{fontSize:5.5, fontWeight:'bold', align:'left'}));
G.push(txt(382,790,'*',{fontSize:7, fontWeight:'bold', align:'left'}));
G.push(txt(382,796,'*',{fontSize:7, fontWeight:'bold', align:'left'}));
G.push(txt(382,802,'*',{fontSize:7, fontWeight:'bold', align:'left'}));
// L
G.push(txt(640,707,'DDP+Low O₂',{fontSize:7, fontWeight:'bold'}));
G.push(txt(648.3,731,'*',{fontSize:7, fontWeight:'bold'}));
G.push(txt(669.3,713.3,'NS',{fontSize:6.5, fontWeight:'bold'}));

// confidence ellipses in data coordinates
function ellipse(gi, e){
  const c = chart.convertToPixel({gridIndex:gi}, [e[0], e[1]]);
  const px = chart.convertToPixel({gridIndex:gi}, [e[0]+e[2], e[1]]);
  const py = chart.convertToPixel({gridIndex:gi}, [e[0], e[1]+e[3]]);
  G.push({type:'ellipse', silent:true, z:-1, shape:{cx:c[0], cy:c[1], rx:Math.abs(px[0]-c[0]), ry:Math.abs(py[1]-c[1])}, style:{fill:'none', stroke:'#cfcfcf', lineWidth:0.8, lineDash:[1,1.5]}});
}
ellipse(0, pcaEllipseA);
ellipse(3, pcaEllipseD);

chart.setOption({graphic:G});
</script>
</body>
</html>
